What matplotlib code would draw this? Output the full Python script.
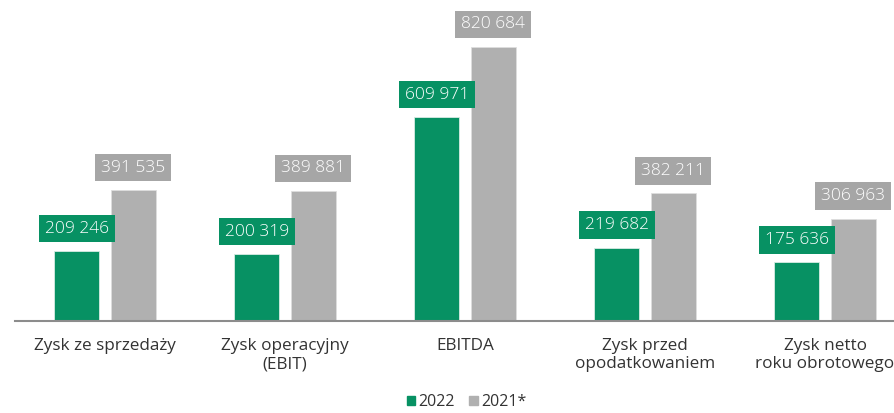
import matplotlib.pyplot as plt
from matplotlib.patches import Patch
import numpy as np

plt.rcParams['font.family'] = ['Open Sans', 'DejaVu Sans']

kategorie = ["Zysk ze sprzedaży", "Zysk operacyjny\n(EBIT)", "EBITDA",
             "Zysk przed\nopodatkowaniem", "Zysk netto\nroku obrotowego"]
wartosci_2022 = [209246, 200319, 609971, 219682, 175636]
wartosci_2021 = [391535, 389881, 820684, 382211, 306963]
etykiety_2022 = ["209 246", "200 319", "609 971", "219 682", "175 636"]
etykiety_2021 = ["391 535", "389 881", "820 684", "382 211", "306 963"]
serie = ["2022", "2021*"]

zielony = "#079163"
szary = "#b0b0b0"
szary_ramka = "#a6a6a6"

fig = plt.figure(figsize=(8.94, 4.13), dpi=100)
# os od x=15px do x=915px (wychodzi poza obraz jak w oryginale)
ax = fig.add_axes([15 / 894, 92 / 413, 900 / 894, 300.5 / 413])

x = np.arange(len(kategorie))
szer = 0.25
przes = 0.156

ax.bar(x - przes, wartosci_2022, szer, color=zielony, edgecolor="#d8ece4", linewidth=0.6)
ax.bar(x + przes, wartosci_2021, szer, color=szary, edgecolor="#dedede", linewidth=0.6)

for i in range(len(kategorie)):
    ax.annotate(etykiety_2022[i], (x[i] - przes, wartosci_2022[i]), xytext=(0, 10.5),
                textcoords="offset points", ha="center", va="bottom", color="white",
                fontsize=12.5, fontweight="light",
                bbox=dict(boxstyle="square,pad=0.33", fc=zielony, ec="none"))
    ax.annotate(etykiety_2021[i], (x[i] + przes, wartosci_2021[i]), xytext=(0, 10.5),
                textcoords="offset points", ha="center", va="bottom", color="white",
                fontsize=12.5, fontweight="light",
                bbox=dict(boxstyle="square,pad=0.33", fc=szary_ramka, ec="none"))

ax.set_xlim(-0.5, 4.5)
ax.set_ylim(0, 900000)
ax.set_xticks(x)
ax.set_xticklabels(kategorie, fontsize=12.3, color="#333333", linespacing=1.2)
ax.tick_params(axis="x", length=0, pad=12)
ax.set_yticks([])
for s in ["top", "right", "left"]:
    ax.spines[s].set_visible(False)
ax.spines["bottom"].set_color("#8c8c8c")
ax.spines["bottom"].set_linewidth(1.5)

uchwyty = [Patch(color=zielony), Patch(color=szary)]
fig.legend(uchwyty, serie, loc="lower center", bbox_to_anchor=(0.522, -0.028), ncol=2,
           frameon=False, fontsize=11.5, handlelength=0.55, handleheight=0.55,
           handletextpad=0.2, columnspacing=0.9, labelcolor="#333333")

fig.savefig("out.png", dpi=100)
